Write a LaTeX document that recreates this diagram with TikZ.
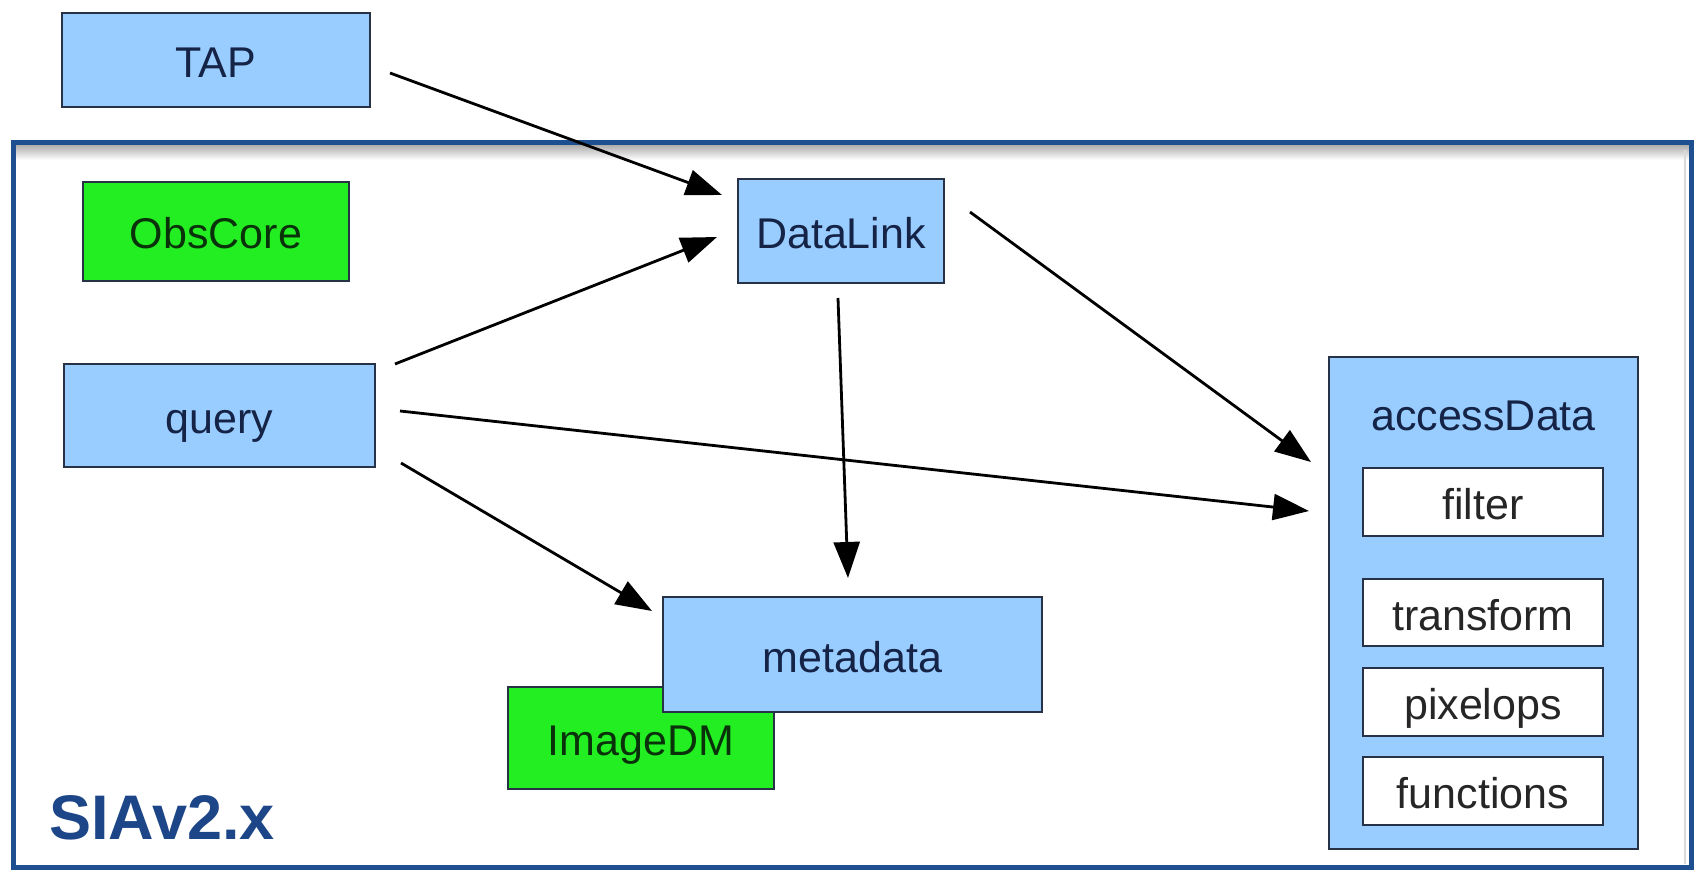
\documentclass[tikz,border=0pt]{standalone}
\usepackage{fontspec}
\setmainfont{Liberation Sans}
\usetikzlibrary{arrows.meta}
\definecolor{boxblue}{RGB}{153,204,255}
\definecolor{boxgreen}{RGB}{34,238,34}
\definecolor{framec}{RGB}{30,80,145}
\definecolor{navytext}{RGB}{20,35,70}
\definecolor{greentext}{RGB}{10,50,10}
\definecolor{siacol}{RGB}{28,70,135}
\definecolor{boxline}{RGB}{40,50,70}
\begin{document}
\begin{tikzpicture}[x=0.5pt,y=-0.5pt,
 basebox/.style={draw=boxline, line width=1pt, inner sep=0pt,
   font=\fontsize{21.5}{26}\selectfont, text height=19.5pt, text depth=2pt},
 bluebox/.style={basebox, fill=boxblue, text=navytext},
 greenbox/.style={basebox, fill=boxgreen, text=greentext},
 whitebox/.style={basebox, fill=white, text=black!85},
 conn/.style={line width=1.4pt, -{Triangle[length=18pt,width=13pt]}}]
\useasboundingbox (0,0) rectangle (1694,872);
\fill[white] (0,0) rectangle (1694,872);
% frame
\shade[top color=black!30, bottom color=white] (15,146) rectangle (1689,160);
\draw[black!15, line width=1pt] (1685,150) -- (1685,864);
\draw[framec, line width=2.5pt] (13,143) rectangle (1691,867);
% boxes
\node[bluebox, minimum width=154pt, minimum height=47pt] (tap) at (216,60) {TAP};
\node[greenbox, minimum width=133pt, minimum height=49.5pt] (obscore) at (216,231.5) {ObsCore};
\node[bluebox, minimum width=155.5pt, minimum height=51.5pt] (query) at (219.5,415.5) {query};
\node[bluebox, minimum width=103pt, minimum height=52pt] (datalink) at (841,231) {DataLink};
\node[greenbox, minimum width=133pt, minimum height=51pt] (imagedm) at (641,738) {ImageDM};
\node[bluebox, minimum width=189.5pt, minimum height=57.5pt] (metadata) at (852.5,654.5) {metadata};
\node[bluebox, minimum width=154.5pt, minimum height=246pt] (access) at (1483.5,603) {};
\node[basebox, draw=none, fill=none, text=navytext, anchor=base] (accesslabel) at (1483.5,430) {accessData};
\node[whitebox, minimum width=120pt, minimum height=34pt] (filter) at (1483,502) {filter};
\node[whitebox, minimum width=120pt, minimum height=33.5pt] (transform) at (1483,612.5) {transform};
\node[whitebox, minimum width=120pt, minimum height=34pt] (pixelops) at (1483,702) {pixelops};
\node[whitebox, minimum width=120pt, minimum height=34pt] (functions) at (1483,791) {functions};
\node[anchor=base west, inner sep=0pt, text=siacol, font=\fontsize{31.5}{36}\selectfont\bfseries] (sia) at (49,839) {SIAv2.x};
% connectors
\draw[conn] ([shift={(19,13)}]tap.east) -- ([shift={(-15,17)}]datalink.north west);
\draw[conn] ([shift={(19,1)}]query.north east) -- ([shift={(-20,6)}]datalink.west);
\draw[conn] ([shift={(25,34)}]datalink.north east) -- ([shift={(-17,106)}]access.north west);
\draw[conn] ([shift={(24,-4.5)}]query.east) -- ([shift={(-53,9)}]filter.west);
\draw[conn] ([shift={(25,-5)}]query.south east) -- ([shift={(-10,15)}]metadata.north west);
\draw[conn] ([shift={(-3,14)}]datalink.south) -- ([shift={(-4.5,-18)}]metadata.north);
\end{tikzpicture}
\end{document}
